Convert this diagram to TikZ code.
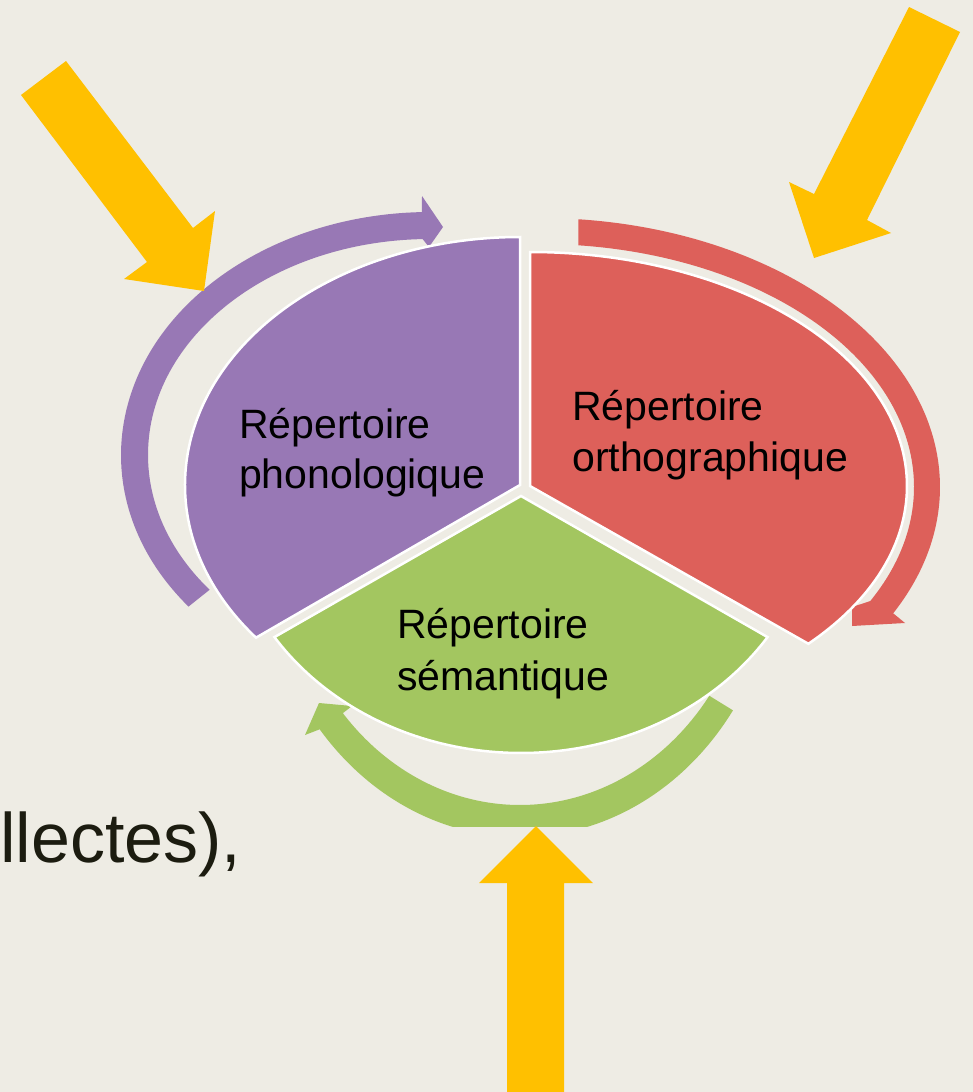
\documentclass[tikz,border=0pt]{standalone}
\usepackage{fontspec}
\setmainfont{Liberation Sans}
\usetikzlibrary{calc}
\definecolor{bg}{HTML}{EEECE4}
\definecolor{purp}{HTML}{9878B5}
\definecolor{redc}{HTML}{DD605A}
\definecolor{grn}{HTML}{A3C660}
\definecolor{yel}{HTML}{FFC000}
\definecolor{txt}{HTML}{1C1C10}
\begin{document}
\begin{tikzpicture}[x=1pt,y=1pt,
  sector/.style={draw=white,line width=2.5pt,line join=miter},
  lbl/.style={anchor=base west,inner sep=0pt,font=\fontsize{41}{49}\selectfont,text=black},
  yarrow/.style={fill=yel}]
\fill[bg] (0,0) rectangle (973,-1092);
\useasboundingbox (0,0) rectangle (973,-1092);

% purple circular arrow
\fill[purp] ($(430,-455)+(218.6:309pt and 243pt)$)
  arc[start angle=218.6,end angle=91.5,x radius=309pt,y radius=243pt]
  -- (422,-196) -- (443,-227) -- (429,-247)
  -- ($(430,-455)+(91.5:282pt and 216pt)$)
  arc[start angle=91.5,end angle=218.6,x radius=282pt,y radius=216pt] -- cycle;

% red circular arrow
\fill[redc] ($(540,-487)+(84.5:400pt and 269pt)$)
  arc[start angle=84.5,end angle=-28,x radius=400pt,y radius=269pt]
  -- (905,-623) -- (852,-626) -- (852,-607)
  -- ($(540,-487)+(-28:374pt and 243pt)$)
  arc[start angle=-28,end angle=84.1,x radius=374pt,y radius=243pt] -- cycle;

% green circular arrow
\begin{scope}
\clip (0,-826) rectangle (973,0);
\fill[grn] ($(520,-540)+(-35:260pt and 297pt)$)
  arc[start angle=-35,end angle=-140.4,x radius=260pt,y radius=297pt]
  -- (305,-735) -- (319,-703) -- (352,-706)
  -- ($(520,-540)+(-139.2:234pt and 265pt)$)
  arc[start angle=-139.2,end angle=-36,x radius=234pt,y radius=265pt] -- cycle;
\end{scope}

% sectors
\path[sector,fill=purp] (520,-485) -- ($(520,-485)+(218:335pt and 248pt)$)
  arc[start angle=218,end angle=90,x radius=335pt,y radius=248pt] -- cycle;
\path[sector,fill=redc] (530,-486) -- ($(530,-486)+(-42.4:377pt and 234pt)$)
  arc[start angle=-42.4,end angle=90,x radius=377pt,y radius=234pt] -- cycle;
\path[sector,fill=grn] (521,-496) -- ($(521,-496)+(213.3:295pt and 257pt)$)
  arc[start angle=213.3,end angle=326.7,x radius=295pt,y radius=257pt] -- cycle;

% labels
\node[lbl] (p1) at (239,-438) {Répertoire};
\node[lbl] (p2) at (239,-488) {phonologique};
\node[lbl] (r1) at (572,-420) {Répertoire};
\node[lbl] (r2) at (572,-471) {orthographique};
\node[lbl] (g1) at (397,-638) {Répertoire};
\node[lbl] (g2) at (397,-690) {sémantique};
\node[anchor=base west,inner sep=0pt,font=\fontsize{70}{82}\selectfont,text=txt] (frag) at (0,-862) {llectes),};

% yellow arrows
\fill[yarrow] (21,-95) -- (66,-61) -- (193,-228) -- (215,-211) -- (204,-291) -- (124,-279) -- (147,-262) -- cycle;
\fill[yarrow] (909,-7) -- (960,-32) -- (867,-220) -- (891,-233) -- (814,-258) -- (789,-182) -- (814,-194) -- cycle;
\fill[yarrow] (507,-1092) -- (507,-883) -- (479,-883) -- (536,-826) -- (593,-883) -- (564,-883) -- (564,-1092) -- cycle;
\end{tikzpicture}
\end{document}
